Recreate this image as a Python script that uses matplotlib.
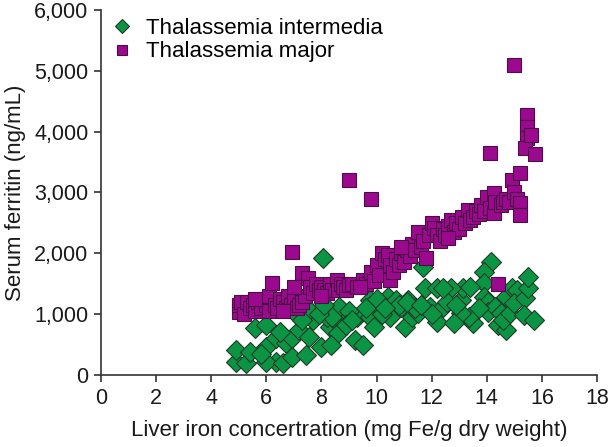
import numpy as np
import matplotlib.pyplot as plt
from matplotlib.ticker import FuncFormatter

plt.rcParams['font.family'] = ['Liberation Sans', 'DejaVu Sans']

# Thalassemia major (liver iron mg Fe/g dw, serum ferritin ng/mL)
major_x = [5.0, 5.0, 5.1, 5.2, 5.3, 5.4, 5.5, 5.6, 5.7, 5.8, 5.9, 6.0, 6.1, 6.1, 6.2, 6.3,
           6.4, 6.5, 6.6, 6.7, 6.8, 6.95, 6.9, 7.0, 7.1, 7.2, 7.3, 7.3, 7.4, 7.5, 7.6, 7.7,
           7.8, 7.9, 8.0, 8.1, 8.2, 8.3, 8.4, 8.55, 8.6, 8.7, 8.8, 8.9, 9.0, 9.0, 9.1, 9.3,
           9.5, 9.6, 9.8, 9.8, 9.9, 10.0, 10.1, 10.2, 10.3, 10.4, 10.5, 10.5, 10.6, 10.7,
           10.8, 10.9, 11.0, 11.1, 11.2, 11.3, 11.4, 11.5, 11.6, 11.7, 11.8, 11.9, 12.0,
           12.1, 12.2, 12.3, 12.4, 12.5, 12.6, 12.7, 12.8, 12.9, 13.0, 13.1, 13.2, 13.3,
           13.4, 13.5, 13.6, 13.7, 13.8, 13.9, 14.0, 14.1, 14.1, 14.25, 14.25, 14.3, 14.4,
           14.5, 14.6, 14.7, 14.8, 14.9, 15.0, 15.0, 15.1, 15.2, 15.2, 15.2, 15.45, 15.45,
           15.45, 15.4, 15.6, 15.75, 5.6, 6.6, 7.0, 8.0, 9.4, 10.9, 12.6]
major_y = [1040, 1150, 1200, 1000, 1200, 1100, 1150, 1050, 1200, 1100, 1250, 1150, 1300, 1050, 1510, 1150,
           1100, 1250, 1200, 1100, 1300, 2020, 1150, 1250, 1100, 1150, 1680, 1200, 1300, 1600, 1450, 1350,
           1500, 1400, 1450, 1400, 1350, 1500, 1400, 1560, 1400, 1500, 1450, 1400, 3200, 1480, 1500, 1450,
           1560, 1500, 2900, 1700, 1550, 1800, 1650, 2000, 1900, 1970, 1560, 1800, 1700, 1900,
           1800, 2000, 1850, 2050, 1950, 2150, 2050, 2350, 2100, 2200, 1920, 2300, 2500,
           2420, 2300, 2200, 2400, 2300, 2450, 2550, 2350, 2500, 2400, 2600, 2500, 2710,
           2550, 2600, 2700, 2650, 2800, 2700, 2930, 3650, 2750, 2990, 2660, 2850, 1500,
           2800, 2850, 2900, 2850, 3200, 5100, 3010, 2900, 3320, 2830, 2630, 4270, 4080,
           3900, 3730, 3950, 3630, 1250, 1050, 1450, 1300, 1450, 2100, 2250]

# Thalassemia intermedia
inter_x = [4.9, 5.25, 4.9, 5.4, 5.6, 6.0, 6.0, 6.35, 6.35, 6.0, 6.7, 6.6, 6.95, 6.95, 7.2,
           7.45, 7.55, 7.7, 7.1, 7.55, 8.05, 8.0, 8.3, 8.2, 8.55, 8.75, 8.65, 8.4, 8.6,
           8.35, 9.2, 9.5, 9.3, 9.75, 9.75, 9.9, 10.1, 10.4, 10.5, 10.7, 10.9, 11.05,
           11.15, 11.3, 11.5, 11.75, 11.7, 11.95, 12.2, 12.2, 12.4, 14.15, 13.9, 13.9,
           13.9, 14.05, 14.05, 14.3, 14.5, 14.4, 14.7, 14.6, 14.85, 14.7, 14.9, 15.1,
           15.0, 15.4, 15.5, 15.5, 15.35, 15.7, 13.5, 13.35, 13.05, 13.05, 13.15, 13.4,
           12.7, 12.8, 12.55, 12.4, 5.8, 6.5, 7.9, 9.0, 9.6, 10.2, 10.8, 11.4, 12.0, 12.9,
           13.7, 8.9, 10.0, 11.1, 7.3, 8.1, 9.1, 10.3, 11.6]
inter_y = [210, 190, 410, 380, 770, 820, 460, 610, 210, 210, 530, 190, 300, 610, 740,
           330, 630, 900, 990, 1070, 1920, 460, 790, 950, 870, 1070, 1120, 950, 690,
           490, 580, 490, 950, 950, 1230, 790, 1120, 1280, 950, 1230, 1120, 790,
           1230, 950, 1020, 1430, 1780, 1120, 1430, 870, 1120, 1860, 1690, 1510,
           1280, 1200, 1040, 1120, 1020, 820, 740, 900, 1020, 1280, 1430, 1400,
           1180, 1270, 1430, 1610, 990, 900, 850, 950, 1020, 1230, 1430, 1450,
           1430, 850, 1200, 1430, 350, 700, 1000, 1050, 1100, 1000, 1150, 1100, 1000, 1150,
           1100, 820, 1250, 1200, 900, 1150, 900, 1100, 1150]

fig = plt.figure(figsize=(6.08, 4.47), dpi=100)
ax = fig.add_axes([0.166, 0.161, 0.816, 0.817])

ax.plot(inter_x, inter_y, 'D', ms=10, mfc='#0b9444', mec='#1d3b25', mew=0.8,
        ls='none', label='Thalassemia intermedia')
ax.plot(major_x, major_y, 's', ms=9.5, mfc='#9b0a8e', mec='#4a0f44', mew=0.8,
        ls='none', label='Thalassemia major')

ax.set_xlim(0, 18)
ax.set_ylim(0, 6000)
ax.set_xticks(np.arange(0, 19, 2))
ax.set_yticks(np.arange(0, 6001, 1000))
ax.yaxis.set_major_formatter(FuncFormatter(lambda v, p: f'{int(v):,}'))

for s in ['top', 'right']:
    ax.spines[s].set_visible(False)
for s in ['left', 'bottom']:
    ax.spines[s].set_color('#333333')
    ax.spines[s].set_linewidth(1.2)
ax.tick_params(direction='out', length=5, width=1.2, color='#333333',
               labelsize=15.5, labelcolor='#1a1a1a', pad=4)

ax.set_xlabel('Liver iron concertration (mg Fe/g dry weight)', fontsize=16,
              color='#1a1a1a', labelpad=8)
ax.set_ylabel('Serum ferritin (ng/mL)', fontsize=16, color='#1a1a1a', labelpad=6)

ax.legend(loc='upper left', bbox_to_anchor=(-0.025, 1.02), frameon=False, fontsize=16,
          handletextpad=0.3, borderaxespad=0.3, labelspacing=0.1, markerscale=0.7,
          handlelength=1.6)

fig.savefig('out.png', dpi=100)
